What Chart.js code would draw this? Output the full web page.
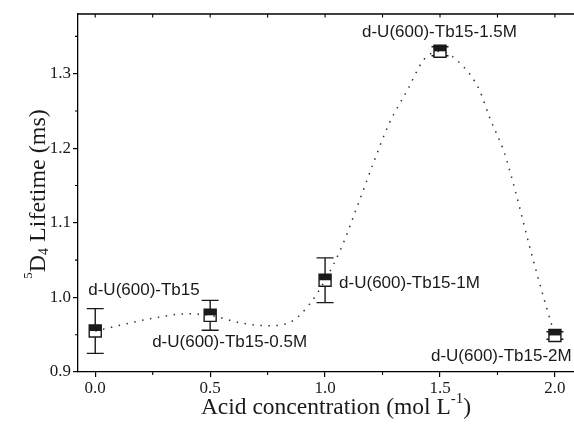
<!DOCTYPE html>
<html>
<head>
<meta charset="utf-8">
<title>5D4 lifetime vs acid concentration</title>
<script src="https://cdn.jsdelivr.net/npm/chart.js@4.4.0/dist/chart.umd.min.js"></script>
<style>
    html, body { margin: 0; padding: 0; background: #fff; }
    #wrap { width: 574px; height: 426px; }
</style>
</head>
<body>
<div id="wrap"><canvas id="lifetimeChart" width="574" height="426"></canvas></div>
<script>
// values
const acidConc = [0.0, 0.5, 1.0, 1.5, 2.0];
const lifetime = [0.955, 0.976, 1.023, 1.330, 0.949];
const lifetimeErr = [0.030, 0.020, 0.030, 0.006, 0.005];
const sampleNames = ['d-U(600)-Tb15', 'd-U(600)-Tb15-0.5M', 'd-U(600)-Tb15-1M', 'd-U(600)-Tb15-1.5M', 'd-U(600)-Tb15-2M'];

// dotted guide curve, points read along the spline in the figure
const curveX = [0.0, 0.25, 0.4, 0.5, 0.63, 0.75, 0.85, 0.93, 1.0, 1.07, 1.14, 1.21, 1.28, 1.36, 1.43, 1.5, 1.6, 1.67, 1.72, 1.78, 1.83, 1.89, 1.96, 2.0];
const curveY = [0.955, 0.972, 0.978, 0.976, 0.966, 0.962, 0.967, 0.99, 1.023, 1.066, 1.122, 1.18, 1.234, 1.279, 1.319, 1.330, 1.31, 1.279, 1.238, 1.194, 1.14, 1.068, 0.99, 0.949];

const xTicks = [0.0, 0.5, 1.0, 1.5, 2.0];
const xMinorTicks = [0.25, 0.75, 1.25, 1.75];
const yTicks = [0.9, 1.0, 1.1, 1.2, 1.3];
const yMinorTicks = [0.95, 1.05, 1.15, 1.25, 1.35];

// label placement next to each point (pixels, from the point)
const labelOffsets = [[-7, -41], [-58, 27], [14, 3], [-78, -19], [-124, 21]];

const INK = '#1a1a1a';
const serif = "'Liberation Serif', 'Times New Roman', serif";
const sans = "'Liberation Sans', Arial, sans-serif";

// draws a run of [text, size, shift] pieces on one baseline, centred at 0
function drawRuns(ctx, runs) {
    let total = 0;
    runs.forEach(r => {
        ctx.font = r[1] + 'px ' + serif;
        r.w = ctx.measureText(r[0]).width;
        total += r.w;
    });
    let x = -total / 2;
    runs.forEach(r => {
        ctx.font = r[1] + 'px ' + serif;
        ctx.fillText(r[0], x, r[2]);
        x += r.w;
    });
}

const decorPlugin = {
    id: 'decor',
    beforeDatasetDraw(chart, args) {
        if (args.index !== 1) return;
        // error bars behind the markers
        const ctx = chart.ctx;
        const xs = chart.scales.x, ys = chart.scales.y;
        ctx.save();
        ctx.strokeStyle = INK;
        ctx.lineWidth = 1.4;
        acidConc.forEach((c, i) => {
            const px = xs.getPixelForValue(c);
            const top = ys.getPixelForValue(lifetime[i] + lifetimeErr[i]);
            const bot = ys.getPixelForValue(lifetime[i] - lifetimeErr[i]);
            ctx.beginPath();
            ctx.moveTo(px, top); ctx.lineTo(px, bot);
            ctx.moveTo(px - 8.5, top); ctx.lineTo(px + 8.5, top);
            ctx.moveTo(px - 8.5, bot); ctx.lineTo(px + 8.5, bot);
            ctx.stroke();
        });
        ctx.restore();
    },
    afterDatasetsDraw(chart) {
        const ctx = chart.ctx;
        const area = chart.chartArea;
        const xs = chart.scales.x, ys = chart.scales.y;
        ctx.save();

        // black upper half of the half-filled squares
        const meta = chart.getDatasetMeta(1);
        ctx.fillStyle = INK;
        meta.data.forEach(pt => {
            ctx.fillRect(pt.x - 6, pt.y - 6, 12, 6);
        });

        // top frame line
        ctx.strokeStyle = '#000';
        ctx.lineWidth = 1.3;
        ctx.beginPath();
        ctx.moveTo(area.left, area.top);
        ctx.lineTo(area.right, area.top);
        ctx.stroke();

        // minor ticks (outward) and mirror ticks on top (inward)
        ctx.lineWidth = 1.1;
        ctx.beginPath();
        xMinorTicks.forEach(v => {
            const px = xs.getPixelForValue(v);
            ctx.moveTo(px, area.bottom); ctx.lineTo(px, area.bottom + 3);
        });
        xTicks.concat(xMinorTicks).forEach(v => {
            const px = xs.getPixelForValue(v);
            ctx.moveTo(px, area.top); ctx.lineTo(px, area.top + 3.5);
        });
        yMinorTicks.forEach(v => {
            const py = ys.getPixelForValue(v);
            ctx.moveTo(area.left, py); ctx.lineTo(area.left - 3, py);
        });
        ctx.stroke();

        // sample labels
        ctx.fillStyle = INK;
        ctx.font = '17px ' + sans;
        ctx.textAlign = 'left';
        ctx.textBaseline = 'middle';
        meta.data.forEach((pt, i) => {
            ctx.fillText(sampleNames[i], pt.x + labelOffsets[i][0], pt.y + labelOffsets[i][1]);
        });

        // axis titles with super/subscripts
        ctx.textBaseline = 'alphabetic';
        ctx.textAlign = 'left';
        ctx.save();
        ctx.translate(336, 414);
        drawRuns(ctx, [['Acid concentration (mol L', 23.5, 0], ['-1', 15, -11], [')', 23.5, 0]]);
        ctx.restore();

        ctx.save();
        ctx.translate(45, 194);
        ctx.rotate(-Math.PI / 2);
        drawRuns(ctx, [['5', 13, -13], ['D', 24, 0], ['4', 14, 3], [' Lifetime (ms)', 24, 0]]);
        ctx.restore();

        ctx.restore();
    }
};

const ctx = document.getElementById('lifetimeChart').getContext('2d');
const lifetimeChart = new Chart(ctx, {
    type: 'scatter',
    data: {
        datasets: [{
            label: 'spline',
            data: curveX.map((x, i) => ({ x: x, y: curveY[i] })),
            showLine: true,
            cubicInterpolationMode: 'monotone',
            borderColor: '#333',
            borderWidth: 1.5,
            borderDash: [1.5, 6.5],
            pointRadius: 0,
            fill: false
        }, {
            label: 'lifetime',
            data: acidConc.map((x, i) => ({ x: x, y: lifetime[i] })),
            showLine: false,
            pointStyle: 'rect',
            pointRadius: 8.5,
            pointBackgroundColor: '#fff',
            pointBorderColor: INK,
            pointBorderWidth: 1.4
        }]
    },
    options: {
        responsive: false,
        animation: false,
        devicePixelRatio: 1,
        layout: { autoPadding: false, padding: { top: 14, right: 0, left: 0, bottom: 0 } },
        plugins: {
            legend: { display: false },
            tooltip: { enabled: false }
        },
        scales: {
            x: {
                type: 'linear',
                min: -0.075,
                max: 2.083,
                afterBuildTicks: s => { s.ticks = xTicks.map(v => ({ value: v })); },
                afterFit: s => { s.height = 54; },
                ticks: {
                    padding: 1,
                    color: INK,
                    font: { family: serif, size: 17 },
                    callback: v => Number(v).toFixed(1)
                },
                grid: { drawOnChartArea: false, tickLength: 5, color: '#000', lineWidth: 1.2 },
                border: { display: true, color: '#000', width: 1.3 }
            },
            y: {
                type: 'linear',
                min: 0.9,
                max: 1.38,
                afterBuildTicks: s => { s.ticks = yTicks.map(v => ({ value: v })); },
                afterFit: s => { s.width = 78; },
                ticks: {
                    padding: 2,
                    color: INK,
                    font: { family: serif, size: 17 },
                    callback: v => Number(v).toFixed(1)
                },
                grid: { drawOnChartArea: false, tickLength: 5, color: '#000', lineWidth: 1.2 },
                border: { display: true, color: '#000', width: 1.3 }
            }
        }
    },
    plugins: [decorPlugin]
});
</script>
</body>
</html>
